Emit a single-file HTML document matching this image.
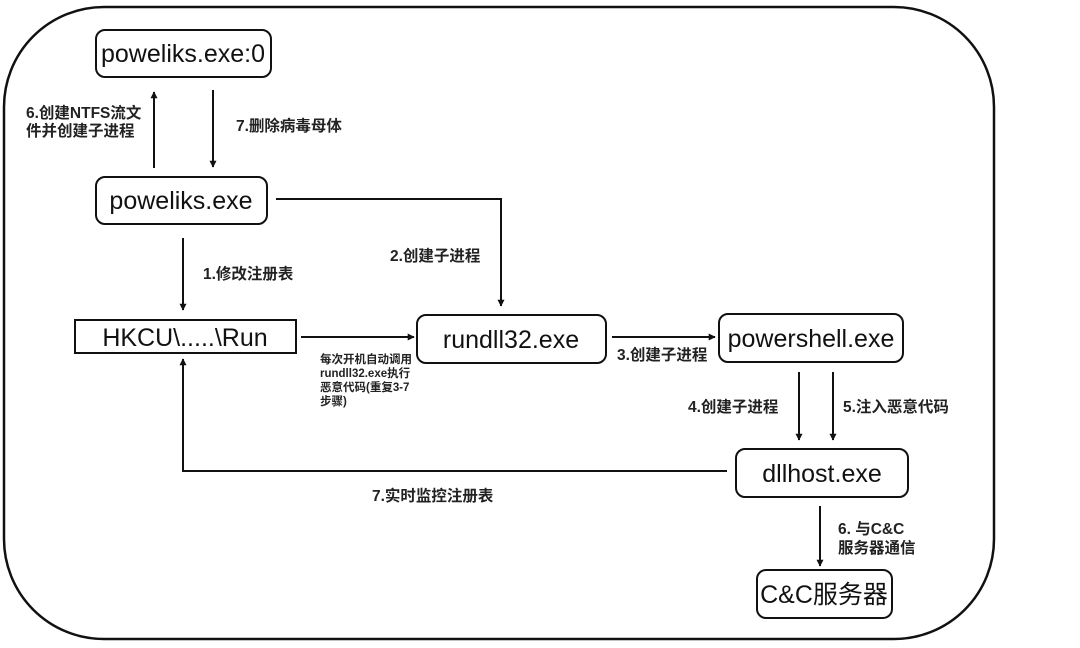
<!DOCTYPE html>
<html><head><meta charset="utf-8"><style>
html,body{margin:0;padding:0;background:#fff;}
svg{display:block;}
.n{font-family:"Liberation Sans","Noto Sans CJK SC",sans-serif;font-size:25px;fill:#111;}
.l{font-family:"Liberation Sans","Noto Sans CJK SC",sans-serif;font-size:15.5px;font-weight:bold;fill:#222;}
.s{font-family:"Liberation Sans","Noto Sans CJK SC",sans-serif;font-size:11.5px;font-weight:bold;fill:#222;}
</style></head><body>
<svg width="1080" height="648" viewBox="0 0 1080 648" xmlns="http://www.w3.org/2000/svg">
<defs><marker id="a" viewBox="0 0 10 10" refX="9" refY="5" markerWidth="7" markerHeight="7" markerUnits="userSpaceOnUse" orient="auto"><path d="M0,0 L10,5 L0,10 z" fill="#111"/></marker></defs>
<rect x="4" y="7" width="990" height="632" rx="100" ry="100" fill="none" stroke="#111" stroke-width="2.5"/>
<g fill="#fff" stroke="#111" stroke-width="2">
<rect x="96" y="30" width="175" height="47" rx="9"/>
<rect x="96" y="177" width="171" height="47" rx="9"/>
<rect x="75" y="320" width="221" height="33"/>
<rect x="417" y="315" width="189" height="48" rx="9"/>
<rect x="719" y="314" width="184" height="48" rx="9"/>
<rect x="736" y="449" width="172" height="48" rx="9"/>
<rect x="757" y="570" width="135" height="48" rx="9"/>
</g>
<g text-anchor="middle" class="n">
<text x="183" y="62" class="n">poweliks.exe:0</text>
<text x="181" y="209" class="n">poweliks.exe</text>
<text x="185" y="346" class="n">HKCU\.....\Run</text>
<text x="511" y="348" class="n">rundll32.exe</text>
<text x="811" y="347" class="n">powershell.exe</text>
<text x="822" y="482" class="n">dllhost.exe</text>
<text x="824" y="603" class="n">C&amp;C服务器</text>
</g>
<g stroke="#111" stroke-width="2" fill="none" marker-end="url(#a)">
<line x1="154" y1="168" x2="154" y2="92"/>
<line x1="213" y1="90" x2="213" y2="167"/>
<polyline points="276,199 501,199 501,306"/>
<line x1="183" y1="238" x2="183" y2="310"/>
<line x1="301" y1="337" x2="414" y2="337"/>
<line x1="612" y1="337" x2="715" y2="337"/>
<line x1="799" y1="372" x2="799" y2="440"/>
<line x1="833" y1="372" x2="833" y2="440"/>
<polyline points="727,471 183,471 183,359"/>
<line x1="820" y1="506" x2="820" y2="566"/>
</g>
<text x="26" y="118" class="l">6.创建NTFS流文</text>
<text x="26" y="136" class="l">件并创建子进程</text>
<text x="236" y="131" class="l">7.删除病毒母体</text>
<text x="203" y="279" class="l">1.修改注册表</text>
<text x="390" y="261" class="l">2.创建子进程</text>
<text x="617" y="360" class="l">3.创建子进程</text>
<text x="688" y="412" class="l">4.创建子进程</text>
<text x="843" y="412" class="l">5.注入恶意代码</text>
<text x="372" y="501" class="l">7.实时监控注册表</text>
<text x="838" y="534" class="l">6. 与C&amp;C</text>
<text x="838" y="553" class="l">服务器通信</text>
<text x="320" y="363" class="s">每次开机自动调用</text>
<text x="320" y="377" class="s">rundll32.exe执行</text>
<text x="320" y="391" class="s">恶意代码(重复3-7</text>
<text x="320" y="405" class="s">步骤)</text>
</svg>
</body></html>
